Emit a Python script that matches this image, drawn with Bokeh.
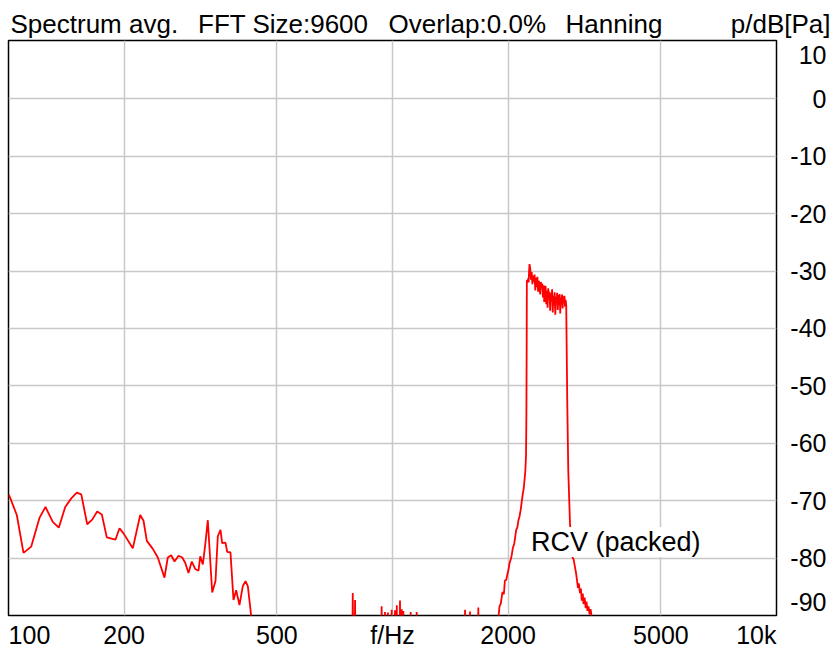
from bokeh.plotting import figure
from bokeh.layouts import column, row
from bokeh.models import FixedTicker, Label, Range1d
from bokeh.core.properties import value
from bokeh.embed import file_html
from bokeh.resources import INLINE

FONT = "Liberation Sans"

# ---------------- data (frequency in Hz, level in dB[Pa]) ----------------
low_freq = [100.0, 100.6, 105.1, 109.4, 114.6, 120.4, 124.8, 130.4, 135.2, 140.5,
            145.7, 150.6, 154.7, 160.3, 165.2, 170.2, 175.0, 180.3, 189.9, 194.6,
            199.3, 210.7, 220.3, 224.7, 229.2, 237.6, 244.8, 254.8, 259.9, 265.3,
            270.6, 277.2, 283.4, 288.5, 294.3, 300.1, 306.3, 312.5, 315.7, 320.7,
            325.3, 330.4, 339.2, 346.0, 350.8, 356.5, 360.1, 367.3, 371.1, 378.5,
            385.4, 391.7, 399.5, 407.5, 414.2, 420.0, 428.6, 436.0]
low_db = [-69.0, -69.2, -72.5, -79.1, -78.0, -73.0, -71.1, -73.7, -74.7, -71.1,
          -69.6, -68.6, -68.9, -74.1, -73.3, -71.9, -72.4, -76.4, -76.8, -74.8,
          -75.7, -78.3, -72.5, -73.5, -77.0, -78.4, -79.9, -83.4, -79.9, -79.5,
          -80.6, -79.6, -79.9, -80.8, -82.6, -80.6, -81.9, -82.2, -79.7, -81.1,
          -77.7, -73.4, -86.0, -84.0, -76.2, -75.1, -77.4, -77.3, -78.9, -79.0,
          -87.3, -85.6, -88.2, -84.9, -84.0, -84.9, -90.1, -96.0]

mid_freq = [786, 788, 790, 797, 799, 801, 935, 937, 939, 954,
            956, 958, 971, 973, 975, 993, 995, 997, 1013, 1015,
            1017, 1024, 1026, 1028, 1044, 1046, 1048, 1055, 1057, 1059,
            1065, 1067, 1069, 1113, 1115, 1117, 1154, 1156, 1158, 1542,
            1545, 1548, 1589, 1592, 1595, 1670, 1673, 1676, 1880]
mid_db = [-96.0, -86.1, -96.0, -96.0, -87.3, -96.0, -96.0, -88.4, -96.0, -96.0,
          -89.4, -96.0, -96.0, -89.5, -96.0, -96.0, -89.0, -96.0, -96.0, -89.1,
          -96.0, -96.0, -88.2, -96.0, -96.0, -87.4, -96.0, -96.0, -88.9, -96.0,
          -96.0, -89.2, -96.0, -96.0, -89.4, -96.0, -96.0, -89.4, -96.0, -96.0,
          -89.0, -96.0, -96.0, -89.3, -96.0, -96.0, -88.6, -96.0, -96.0]

rise_freq = [1886, 1900, 1915, 1934, 1950, 1962, 1978, 1995, 2005, 2017,
             2035, 2045, 2057, 2075, 2088, 2100, 2115, 2128, 2141, 2158,
             2170, 2184, 2196, 2207, 2218, 2227, 2232, 2236, 2238, 2248,
             2256, 2262, 2268]
rise_db = [-90.5, -88.4, -87.9, -85.9, -86.3, -83.9, -83.8, -82.6, -82.0, -80.9,
           -80.1, -79.4, -78.3, -77.5, -76.2, -75.1, -74.6, -73.4, -72.8, -71.5,
           -70.2, -68.8, -67.9, -66.4, -64.8, -62.0, -55.0, -42.0, -31.6, -31.9,
           -31.3, -32.0, -30.1]

plat_freq = [2274, 2284, 2294, 2304, 2314, 2324, 2334, 2344, 2354, 2364,
             2374, 2384, 2394, 2404, 2414, 2424, 2434, 2444, 2454, 2464,
             2474, 2484, 2494, 2504, 2514, 2524, 2534, 2544, 2554, 2564,
             2574, 2584, 2594, 2604, 2614, 2624, 2634, 2644, 2654, 2664,
             2674, 2684, 2694, 2704, 2714, 2724, 2734, 2744, 2754, 2764,
             2774, 2784, 2794, 2804, 2814, 2824]
plat_db = [-28.8, -29.6, -31.5, -30.2, -32.3, -30.8, -31.9, -30.6, -33.4, -31.2,
           -32.8, -31.0, -33.6, -31.7, -32.4, -34.1, -31.9, -33.0, -32.2, -34.6,
           -32.5, -35.4, -33.1, -32.6, -35.8, -33.4, -36.4, -33.0, -34.9, -33.6,
           -36.9, -33.9, -35.3, -33.2, -37.2, -34.3, -36.0, -33.7, -37.6, -34.5,
           -35.5, -33.8, -36.8, -34.2, -35.9, -34.0, -37.4, -34.6, -35.2, -34.1,
           -36.5, -34.4, -35.6, -34.3, -36.2, -35.0]

fall_freq = [2834, 2852, 2869, 2899, 2925, 2947, 2962, 2982, 3004, 3020,
             3040, 3055, 3078, 3095, 3110, 3130, 3143, 3165, 3185, 3200,
             3220, 3240, 3260, 3280, 3302, 3320, 10000]
fall_db = [-36.0, -53.0, -64.7, -74.0, -77.5, -80.0, -80.2, -81.3, -82.5, -83.6,
           -85.2, -84.4, -86.1, -85.3, -87.4, -86.2, -88.0, -86.9, -88.7, -87.6,
           -89.2, -88.4, -89.8, -88.9, -90.3, -96.0, -96.0]

# ticks / labels
x_grid_ticks = [200, 500, 1000, 2000, 5000]
x_label_ticks = [113.4, 200, 500, 1000, 2000, 5000, 8862]   # end labels sit inside the frame
x_tick_labels = {113.4: "100", 200: "200", 500: "500", 1000: "f/Hz",
                 2000: "2000", 5000: "5000", 8862: "10k"}
y_grid_ticks = [-80, -70, -60, -50, -40, -30, -20, -10, 0]
y_tick_text = ["10", "0", "-10", "-20", "-30", "-40", "-50", "-60", "-70", "-80", "-90"]
y_tick_pos = [7.7, 0, -10, -20, -30, -40, -50, -60, -70, -80, -87.7]

title_words = ["Spectrum avg.", "FFT Size:9600", "Overlap:0.0%", "Hanning"]
title_word_x = [10, 197.5, 388, 565]          # px from the left of the page
unit_text = "p/dB[Pa]"
series_label = "RCV (packed)"
series_label_pos = (2295, -77.2)

X_MIN, X_MAX = 100, 10000
Y_MIN, Y_MAX = -90, 10.15

freqs = low_freq + mid_freq + rise_freq + plat_freq + fall_freq
dbs = low_db + mid_db + rise_db + plat_db + fall_db

W, H = 831, 651
HEADER_H = 39
HEADER_TEXT_MID = 16        # vertical centre of the header text, px above the strip bottom
MAIN_W = 778
SIDE_W = W - MAIN_W
BODY_H = H - HEADER_H

yr = Range1d(Y_MIN, Y_MAX)


def blank(fig):
    fig.outline_line_color = None
    fig.background_fill_color = "white"
    fig.border_fill_color = "white"
    fig.xgrid.visible = False
    fig.ygrid.visible = False


# ---------------- header strip ----------------
header = figure(width=W, height=HEADER_H, x_range=Range1d(0, W), y_range=Range1d(0, HEADER_H),
                x_axis_location=None, y_axis_location=None, output_backend="svg",
                toolbar_location=None, min_border=0)
blank(header)
header.text(x=title_word_x, y=[HEADER_TEXT_MID] * len(title_words), text=title_words,
            text_font=value(FONT), text_font_size="26px", text_color="black",
            text_align="left", text_baseline="middle")
header.text(x=[830], y=[HEADER_TEXT_MID], text=[unit_text],
            text_font=value(FONT), text_font_size="26px", text_color="black",
            text_align="right", text_baseline="middle")

# ---------------- main plot ----------------
p = figure(width=MAIN_W, height=BODY_H, x_axis_type="log",
           x_range=Range1d(X_MIN, X_MAX), y_range=yr,
           y_axis_location=None, output_backend="svg", toolbar_location=None,
           min_border_left=8, min_border_right=2, min_border_top=1,
           min_border_bottom=35)
p.background_fill_color = "white"
p.border_fill_color = "white"
p.outline_line_color = "black"
p.outline_line_width = 1.5

GRID = "#c8c8c8"
p.xgrid.ticker = FixedTicker(ticks=x_grid_ticks)
p.ygrid.ticker = FixedTicker(ticks=y_grid_ticks)
for g in (p.xgrid, p.ygrid):
    g.grid_line_color = GRID
    g.grid_line_width = 1.5

ax = p.xaxis[0]
ax.ticker = FixedTicker(ticks=x_label_ticks)
ax.major_label_overrides = x_tick_labels
ax.axis_line_color = None
ax.major_tick_line_color = None
ax.major_tick_out = 0
ax.major_tick_in = 0
ax.minor_tick_line_color = None
ax.major_label_standoff = 5
ax.major_label_text_font = FONT
ax.major_label_text_font_size = "25px"
ax.major_label_text_color = "black"

p.line(freqs, dbs, line_color="#ff0000", line_width=1.8)

p.add_layout(Label(x=series_label_pos[0], y=series_label_pos[1], text=series_label,
                   text_align="left", text_baseline="middle",
                   text_font=FONT, text_font_size="27px", text_color="black",
                   background_fill_color="white"))

# ---------------- right-hand level labels ----------------
side = figure(width=SIDE_W, height=BODY_H, x_range=Range1d(0, SIDE_W), y_range=yr,
              x_axis_location=None, y_axis_location=None, output_backend="svg",
              toolbar_location=None, min_border_left=0, min_border_right=0,
              min_border_top=1, min_border_bottom=35)
blank(side)
side.text(x=[826 - MAIN_W] * len(y_tick_text), y=y_tick_pos, text=y_tick_text,
          text_font=value(FONT), text_font_size="25px", text_color="black",
          text_align="right", text_baseline="middle")

layout = column(header, row(p, side))
open("out.html", "w").write(file_html(layout, INLINE))
